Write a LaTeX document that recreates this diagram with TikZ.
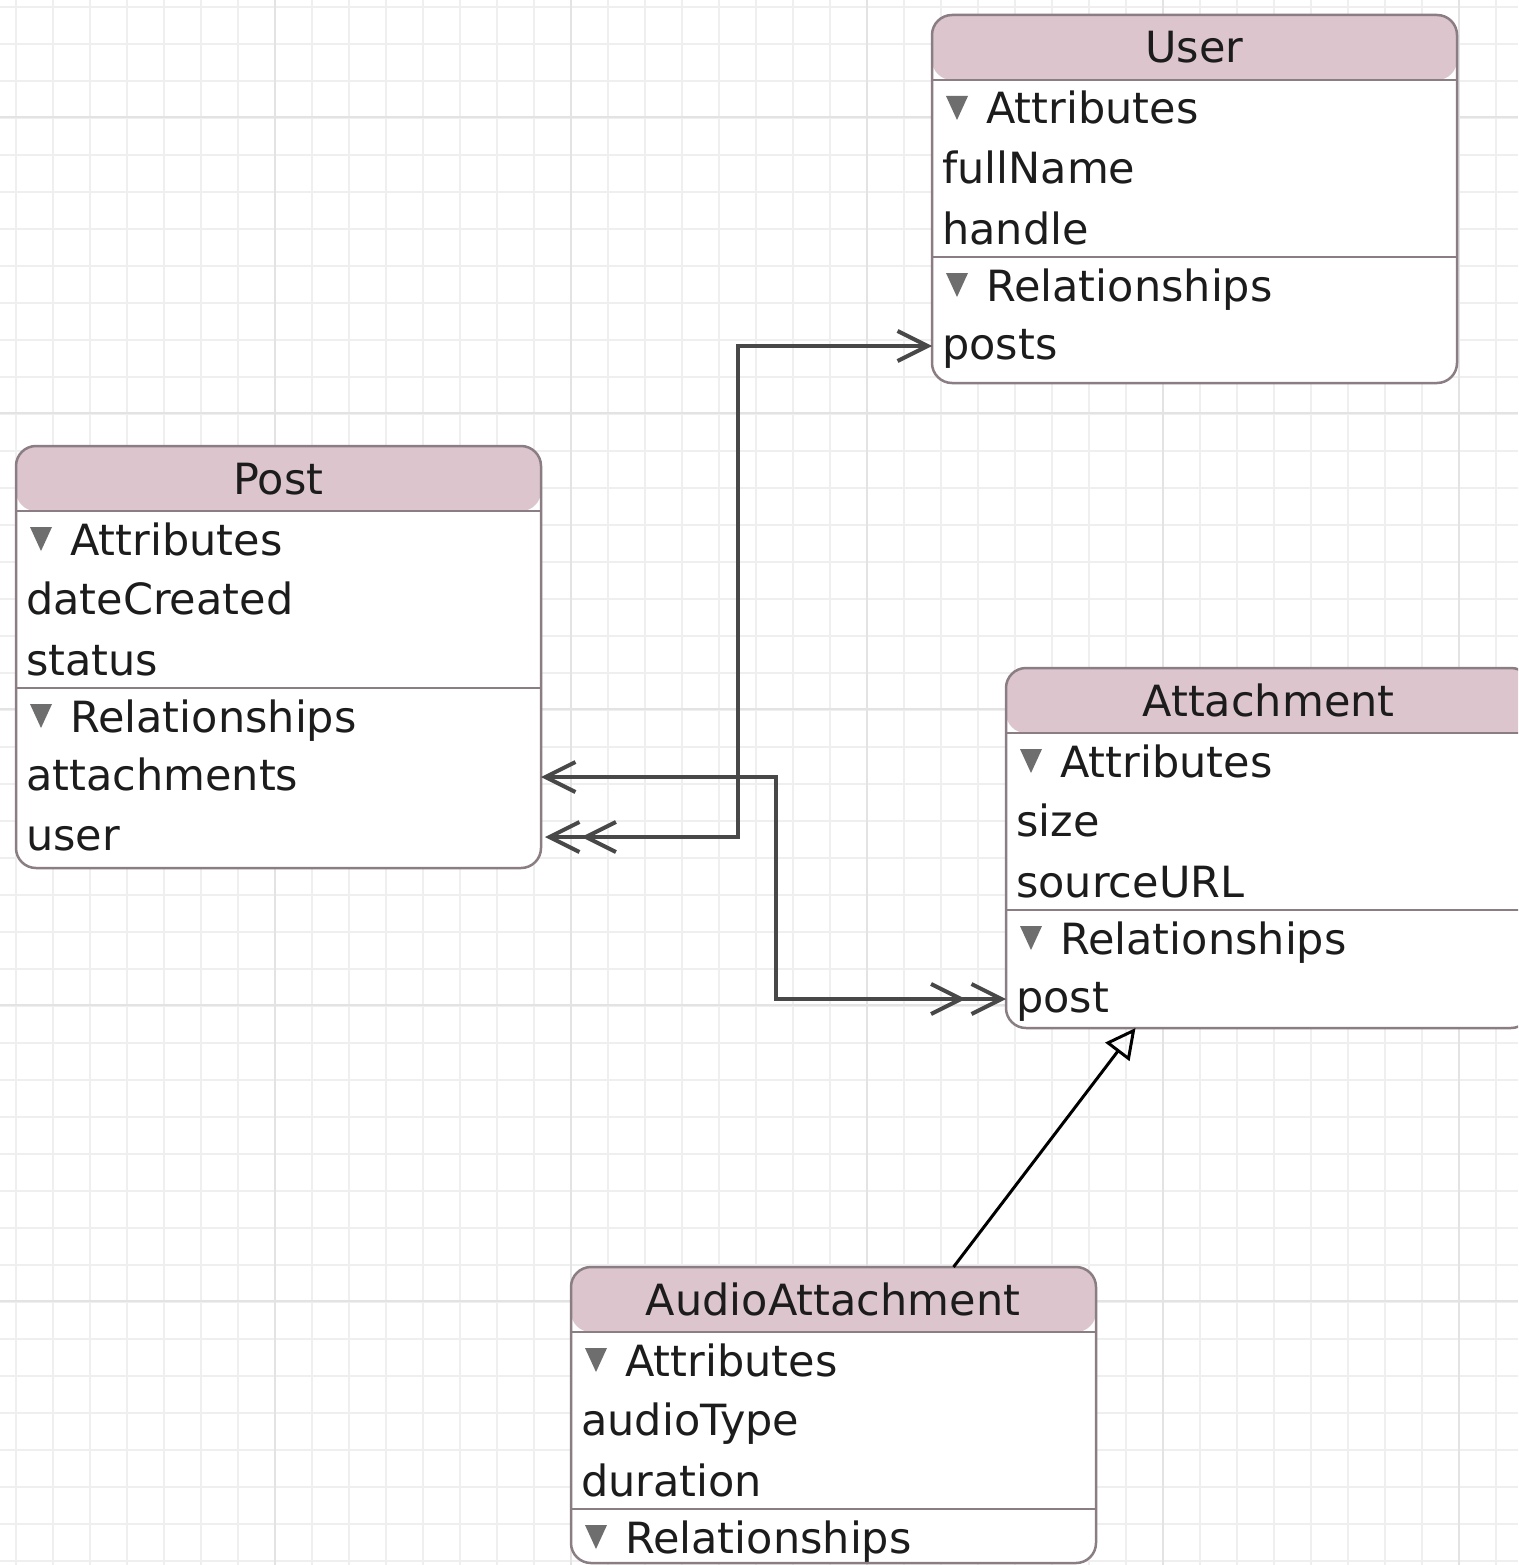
\documentclass[tikz,border=0pt]{standalone}
\usepackage{fontspec}
\setmainfont{DejaVu Sans}
\usetikzlibrary{arrows.meta}

\definecolor{hdrpink}{HTML}{DCC5CD}
\definecolor{framegray}{HTML}{8A7D84}
\definecolor{linkgray}{HTML}{484848}
\definecolor{bulletgray}{HTML}{6E6E6E}
\definecolor{gridminor}{HTML}{EFEFEF}
\definecolor{gridmajor}{HTML}{E3E3E3}
\definecolor{inktext}{HTML}{1C1C1C}

\tikzset{
  entity/.style={anchor=north west, inner sep=0pt, outer sep=0pt, minimum width=525pt,
    rounded corners=20pt, fill=white, draw=framegray, line width=2.5pt,
    path picture={\fill[hdrpink] (path picture bounding box.north west) rectangle ([yshift=-65pt]path picture bounding box.north east);}},
  title/.style={anchor=base, inner sep=0pt, text=inktext, font=\fontsize{43}{50}\selectfont},
  field/.style={anchor=base west, inner sep=0pt, text=inktext, font=\fontsize{43}{50}\selectfont},
  divider/.style={draw=framegray, line width=2.5pt},
  bullet/.style={fill=bulletgray},
  link/.style={draw=linkgray, line width=4pt},
  isa/.style={draw=black, line width=3pt, arrows={-Triangle[open, length=30pt, width=30pt]}}
}

\begin{document}
\begin{tikzpicture}[x=1pt,y=-1pt]
\useasboundingbox (0,0) rectangle (1518,1565);
\clip (0,0) rectangle (1518,1565);
\fill[white] (0,0) rectangle (1518,1565);

% grid paper
\foreach \x in {16,53,...,1518} \draw[gridminor, line width=1.5pt] (\x,0) -- (\x,1565);
\foreach \y in {7,44,...,1565} \draw[gridminor, line width=1.5pt] (0,\y) -- (1518,\y);
\foreach \x in {275,571,867,1163,1459} \draw[gridmajor, line width=1.5pt] (\x,0) -- (\x,1565);
\foreach \y in {117,413,709,1005,1301} \draw[gridmajor, line width=1.5pt] (0,\y) -- (1518,\y);

% User
\node[entity, minimum height=368pt] (user) at (932,15) {};
\draw[divider] (932,80) -- (1457,80);
\draw[divider] (932,257) -- (1457,257);
\fill[bullet] (946,96) -- (968,96) -- (957,120) -- cycle;
\fill[bullet] (946,273) -- (968,273) -- (957,297) -- cycle;
\node[title] (user-title) at (1194.5,63) {User};
\node[field] (user-attr) at (986,124) {Attributes};
\node[field] (user-fullname) at (942,183) {fullName};
\node[field] (user-handle) at (942,244) {handle};
\node[field] (user-rel) at (986,301) {Relationships};
\node[field] (user-posts) at (942,359) {posts};

% Post
\node[entity, minimum height=422pt] (post) at (16,446) {};
\draw[divider] (16,511) -- (541,511);
\draw[divider] (16,688) -- (541,688);
\fill[bullet] (30,527) -- (52,527) -- (41,551) -- cycle;
\fill[bullet] (30,704) -- (52,704) -- (41,728) -- cycle;
\node[title] (post-title) at (278.5,494) {Post};
\node[field] (post-attr) at (70,555) {Attributes};
\node[field] (post-datecreated) at (26,614) {dateCreated};
\node[field] (post-status) at (26,675) {status};
\node[field] (post-rel) at (70,732) {Relationships};
\node[field] (post-attachments) at (26,790) {attachments};
\node[field] (post-user) at (26,850) {user};

% Attachment
\node[entity, minimum height=360pt] (attachment) at (1006,668) {};
\draw[divider] (1006,733) -- (1531,733);
\draw[divider] (1006,910) -- (1531,910);
\fill[bullet] (1020,749) -- (1042,749) -- (1031,773) -- cycle;
\fill[bullet] (1020,926) -- (1042,926) -- (1031,950) -- cycle;
\node[title] (attachment-title) at (1268.5,716) {Attachment};
\node[field] (attachment-attr) at (1060,777) {Attributes};
\node[field] (attachment-size) at (1016,836) {size};
\node[field] (attachment-sourceurl) at (1016,897) {sourceURL};
\node[field] (attachment-rel) at (1060,954) {Relationships};
\node[field] (attachment-post) at (1016,1012) {post};

% AudioAttachment
\node[entity, minimum height=296pt] (audio) at (571,1267) {};
\draw[divider] (571,1332) -- (1096,1332);
\draw[divider] (571,1509) -- (1096,1509);
\fill[bullet] (585,1348) -- (607,1348) -- (596,1372) -- cycle;
\fill[bullet] (585,1525) -- (607,1525) -- (596,1549) -- cycle;
\node[title] (audio-title) at (833,1315) {AudioAttachment};
\node[field] (audio-attr) at (625,1376) {Attributes};
\node[field] (audio-audiotype) at (581,1435) {audioType};
\node[field] (audio-duration) at (581,1496) {duration};
\node[field] (audio-rel) at (625,1553) {Relationships};

% relationships
\draw[link, arrows={Straight Barb[length=30pt,width=30pt,sep=4pt] Straight Barb[length=30pt,width=30pt]-Straight Barb[length=30pt,width=30pt]}]
  ([yshift=13pt]post-user.base -| post.east) -- ++(197,0) |- ([yshift=13pt]user-posts.base -| user.west);
\draw[link, arrows={Straight Barb[length=30pt,width=30pt]-Straight Barb[length=30pt,width=30pt,sep=4pt] Straight Barb[length=30pt,width=30pt]}]
  ([yshift=13pt]post-attachments.base -| post.east) -- ++(235,0) |- ([yshift=13pt]attachment-post.base -| attachment.west);

% inheritance
\draw[isa] ([xshift=120pt]audio.north) -- ([xshift=-133pt]attachment.south);
\end{tikzpicture}
\end{document}
